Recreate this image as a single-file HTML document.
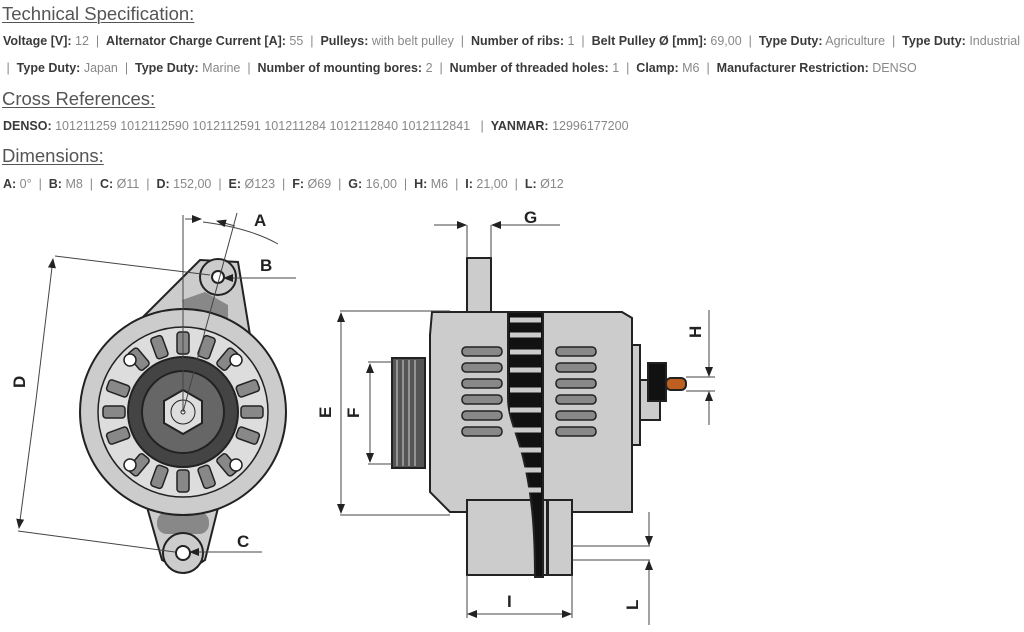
<!DOCTYPE html>
<html><head><meta charset="utf-8"><style>
body{margin:0;width:1024px;height:632px;background:#fff;font-family:"Liberation Sans",Arial,sans-serif;position:relative;overflow:hidden}
.h{position:absolute;left:2px;font-size:18.5px;color:#555;text-decoration:underline;text-decoration-thickness:1px;text-underline-offset:2px;white-space:nowrap}
.l{position:absolute;left:3px;font-size:12.5px;color:#888;white-space:nowrap}
.l b{color:#3a3a3a}
svg{position:absolute;left:0;top:0}
</style></head><body>
<div class="h" style="top:3px">Technical Specification:</div>
<div class="l" style="top:34px"><b>Voltage [V]:</b> 12 &nbsp;| &nbsp;<b>Alternator Charge Current [A]:</b> 55 &nbsp;| &nbsp;<b>Pulleys:</b> with belt pulley &nbsp;| &nbsp;<b>Number of ribs:</b> 1 &nbsp;| &nbsp;<b>Belt Pulley Ø [mm]:</b> 69,00 &nbsp;| &nbsp;<b>Type Duty:</b> Agriculture &nbsp;| &nbsp;<b>Type Duty:</b> Industrial</div>
<div class="l" style="top:61px">&nbsp;| &nbsp;<b>Type Duty:</b> Japan &nbsp;| &nbsp;<b>Type Duty:</b> Marine &nbsp;| &nbsp;<b>Number of mounting bores:</b> 2 &nbsp;| &nbsp;<b>Number of threaded holes:</b> 1 &nbsp;| &nbsp;<b>Clamp:</b> M6 &nbsp;| &nbsp;<b>Manufacturer Restriction:</b> DENSO</div>
<div class="h" style="top:88px">Cross References:</div>
<div class="l" style="top:119px"><b>DENSO:</b> 101211259 1012112590 1012112591 101211284 1012112840 1012112841 &nbsp;&nbsp;| &nbsp;<b>YANMAR:</b> 12996177200</div>
<div class="h" style="top:145px">Dimensions:</div>
<div class="l" style="top:177px"><b>A:</b> 0° &nbsp;| &nbsp;<b>B:</b> M8 &nbsp;| &nbsp;<b>C:</b> Ø11 &nbsp;| &nbsp;<b>D:</b> 152,00 &nbsp;| &nbsp;<b>E:</b> Ø123 &nbsp;| &nbsp;<b>F:</b> Ø69 &nbsp;| &nbsp;<b>G:</b> 16,00 &nbsp;| &nbsp;<b>H:</b> M6 &nbsp;| &nbsp;<b>I:</b> 21,00 &nbsp;| &nbsp;<b>L:</b> Ø12</div>
<svg width="1024" height="632" viewBox="0 0 1024 632" font-family="Liberation Sans,Arial,sans-serif" font-weight="bold" fill="none">
<defs><marker id="ar" markerWidth="10" markerHeight="8" refX="9" refY="4" orient="auto" markerUnits="userSpaceOnUse"><path d="M0,0 L10,4 L0,8Z" fill="#222"/></marker></defs>
<!-- LEFT VIEW -->
<g stroke="#222" stroke-width="2">
<path d="M140,320 L200,260 L238,262 L250,335 Z" fill="#ccc"/>
<path d="M145,500 L220,500 L205,560 L185,573 L162,560 Z" fill="#ccc"/>
<circle cx="218" cy="277" r="18" fill="#ccc"/>
<path d="M182,300 L205,292 L228,305 L228,320 L185,318Z" fill="#888" stroke="none"/>
<rect x="157" y="512" width="52" height="22" rx="10" fill="#888" stroke="none"/>
<circle cx="183" cy="553" r="20" fill="#ccc"/>
<circle cx="183" cy="412" r="103" fill="#ccc"/>
<circle cx="183" cy="412" r="85" fill="#ddd" stroke-width="1.5"/>
</g>
<g stroke="#222" stroke-width="1.5" fill="#888">
<g id="sl"><rect x="177" y="332" width="12" height="22" rx="3"/></g>
<use href="#sl" transform="rotate(20 183 412)"/><use href="#sl" transform="rotate(40 183 412)"/><use href="#sl" transform="rotate(-20 183 412)"/><use href="#sl" transform="rotate(-40 183 412)"/>
<use href="#sl" transform="rotate(70 183 412)"/><use href="#sl" transform="rotate(90 183 412)"/><use href="#sl" transform="rotate(110 183 412)"/>
<use href="#sl" transform="rotate(-70 183 412)"/><use href="#sl" transform="rotate(-90 183 412)"/><use href="#sl" transform="rotate(-110 183 412)"/>
<use href="#sl" transform="rotate(140 183 412)"/><use href="#sl" transform="rotate(160 183 412)"/><use href="#sl" transform="rotate(180 183 412)"/><use href="#sl" transform="rotate(200 183 412)"/><use href="#sl" transform="rotate(220 183 412)"/>
</g>
<g stroke="#222" stroke-width="1.5" fill="#fff">
<circle cx="130" cy="360" r="6"/><circle cx="236" cy="360" r="6"/><circle cx="130" cy="465" r="6"/><circle cx="236" cy="465" r="6"/>
</g>
<g stroke="#222" stroke-width="2">
<circle cx="183" cy="412" r="55" fill="#444"/>
<circle cx="183" cy="412" r="41" fill="#666"/>
<polygon points="183,390 202,401 202,423 183,434 164,423 164,401" fill="#ddd"/>
<circle cx="183" cy="412" r="12" fill="#ddd" stroke-width="1"/>
<circle cx="183" cy="412" r="2" fill="#fff" stroke-width="1"/>
<circle cx="218" cy="277" r="6" fill="#fff"/>
<circle cx="183" cy="553" r="7" fill="#fff"/>
</g>
<g stroke="#444" stroke-width="1">
<line x1="183" y1="215" x2="183" y2="412"/>
<line x1="237" y1="213" x2="183" y2="412"/>
<path d="M203,222 Q250,228 278,244"/>
<line x1="185" y1="219" x2="201" y2="219" marker-end="url(#ar)"/>
<line x1="235" y1="226" x2="217" y2="221" marker-end="url(#ar)"/>
<line x1="296" y1="278" x2="224" y2="278" marker-end="url(#ar)"/>
<line x1="262" y1="552" x2="190" y2="552" marker-end="url(#ar)"/>
<line x1="55" y1="256" x2="210" y2="275"/>
<line x1="18" y1="531" x2="175" y2="552"/>
<line x1="36" y1="400" x2="53" y2="259" marker-end="url(#ar)"/>
<line x1="36" y1="400" x2="19" y2="528" marker-end="url(#ar)"/>
</g>
<g fill="#222" font-size="17">
<text x="254" y="226">A</text><text x="260" y="271">B</text><text x="237" y="547">C</text>
<text transform="translate(25,388) rotate(-90)">D</text>
</g>
<!-- RIGHT VIEW -->
<g stroke="#222" stroke-width="2">
<rect x="467" y="258" width="24" height="55" fill="#ccc"/>
<rect x="632" y="345" width="8" height="100" fill="#ccc"/>
<rect x="640" y="380" width="20" height="40" fill="#ccc"/>
<rect x="648" y="363" width="18" height="38" fill="#111"/>
<rect x="666" y="378" width="20" height="12" rx="5" fill="#c06020"/>
<path d="M392,358 h33 v110 h-33 z" fill="#555"/>
<path d="M432,312 L622,312 L632,318 L632,512 L450,512 L430,492 L430,335 Z" fill="#ccc"/>
<rect x="467" y="500" width="80" height="75" fill="#ccc"/>
<rect x="548" y="500" width="24" height="75" fill="#ccc"/>
<path d="M508,312 h35 v265 h-8 c0,-40 -2,-80 -12,-120 c-8,-30 -15,-40 -15,-60 z" fill="#111"/>
</g>
<g stroke="#ccc" stroke-width="5">
<line x1="510" y1="320" x2="541" y2="320"/><line x1="510" y1="335" x2="541" y2="335"/><line x1="510" y1="352" x2="541" y2="352"/><line x1="510" y1="370" x2="541" y2="370"/><line x1="510" y1="390" x2="541" y2="390"/><line x1="510" y1="410" x2="541" y2="410"/><line x1="510" y1="430" x2="541" y2="430"/><line x1="512" y1="450" x2="541" y2="450"/><line x1="518" y1="470" x2="541" y2="470"/><line x1="525" y1="490" x2="541" y2="490"/>
</g>
<g stroke="#222" stroke-width="1.5" fill="#888">
<rect x="462" y="347" width="40" height="9" rx="4"/><rect x="462" y="363" width="40" height="9" rx="4"/><rect x="462" y="379" width="40" height="9" rx="4"/><rect x="462" y="395" width="40" height="9" rx="4"/><rect x="462" y="411" width="40" height="9" rx="4"/><rect x="462" y="427" width="40" height="9" rx="4"/>
<rect x="556" y="347" width="40" height="9" rx="4"/><rect x="556" y="363" width="40" height="9" rx="4"/><rect x="556" y="379" width="40" height="9" rx="4"/><rect x="556" y="395" width="40" height="9" rx="4"/><rect x="556" y="411" width="40" height="9" rx="4"/><rect x="556" y="427" width="40" height="9" rx="4"/>
</g>
<g stroke="#aaa" stroke-width="1.5">
<line x1="397" y1="360" x2="397" y2="466"/><line x1="403" y1="360" x2="403" y2="466"/><line x1="409" y1="360" x2="409" y2="466"/><line x1="415" y1="360" x2="415" y2="466"/>
</g>
<g stroke="#444" stroke-width="1">
<line x1="467" y1="225" x2="467" y2="258"/><line x1="491" y1="225" x2="491" y2="258"/>
<line x1="434" y1="225" x2="466" y2="225" marker-end="url(#ar)"/>
<line x1="560" y1="225" x2="492" y2="225" marker-end="url(#ar)"/>
<line x1="340" y1="311" x2="450" y2="311"/><line x1="340" y1="515" x2="450" y2="515"/>
<line x1="341" y1="412" x2="341" y2="313" marker-end="url(#ar)"/><line x1="341" y1="412" x2="341" y2="513" marker-end="url(#ar)"/>
<line x1="368" y1="362" x2="392" y2="362"/><line x1="368" y1="464" x2="392" y2="464"/>
<line x1="370" y1="412" x2="370" y2="364" marker-end="url(#ar)"/><line x1="370" y1="412" x2="370" y2="462" marker-end="url(#ar)"/>
<line x1="686" y1="377" x2="715" y2="377"/><line x1="686" y1="391" x2="715" y2="391"/>
<line x1="709" y1="310" x2="709" y2="376" marker-end="url(#ar)"/><line x1="709" y1="425" x2="709" y2="392" marker-end="url(#ar)"/>
<line x1="572" y1="546" x2="650" y2="546"/><line x1="572" y1="560" x2="650" y2="560"/>
<line x1="649" y1="512" x2="649" y2="545" marker-end="url(#ar)"/><line x1="649" y1="625" x2="649" y2="561" marker-end="url(#ar)"/>
<line x1="467" y1="575" x2="467" y2="618"/><line x1="572" y1="575" x2="572" y2="618"/>
<line x1="520" y1="614" x2="468" y2="614" marker-end="url(#ar)"/><line x1="520" y1="614" x2="571" y2="614" marker-end="url(#ar)"/>
</g>
<g fill="#222" font-size="17">
<text x="524" y="223">G</text>
<text transform="translate(331,418) rotate(-90)">E</text>
<text transform="translate(359,418) rotate(-90)">F</text>
<text transform="translate(701,338) rotate(-90)">H</text>
<text x="507" y="607">I</text>
<text transform="translate(638,610) rotate(-90)">L</text>
</g>
</svg>
</body></html>
